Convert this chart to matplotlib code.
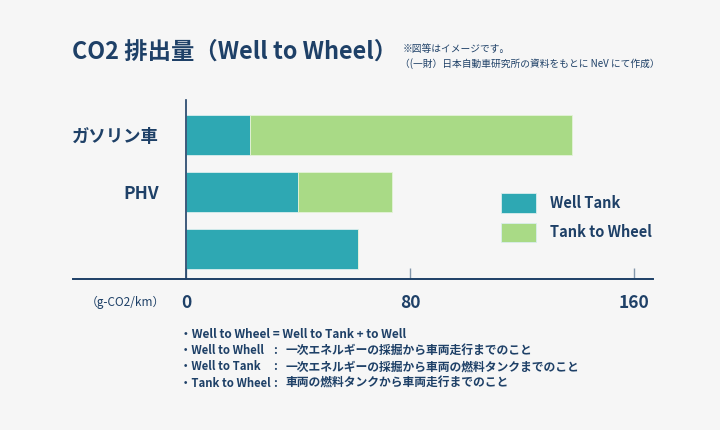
"""CO2 排出量 (Well to Wheel) stacked bar chart -> out.png"""

import matplotlib

matplotlib.use("Agg")
import matplotlib.pyplot as plt
from matplotlib.lines import Line2D
from matplotlib.patches import Rectangle

plt.rcParams["font.family"] = ["Noto Sans CJK JP", "DejaVu Sans"]

# data (g-CO2/km)
categories = ["ガソリン車", "PHV", ""]
well_to_tank = [23, 40, 61.5]
tank_to_wheel = [115, 33.5, 0]
series_names = ["Well Tank", "Tank to Wheel"]
xticks = [0, 80, 160]

NAVY = "#1e4067"
TEAL = "#2ea8b3"
GREEN = "#a9da86"
BG = "#f6f6f6"
W, H = 720, 430


def px(x, y):
    """pixel (from top-left) -> figure fraction"""
    return x / W, 1 - y / H


fig = plt.figure(figsize=(7.2, 4.3), dpi=100, facecolor=BG)

# axes: x=0 at 186px, 2.8 px per unit; top 100px, bottom 279px
left, top, right, bottom = 186, 100, 653, 279
ax = fig.add_axes([left / W, 1 - bottom / H, (right - left) / W, (bottom - top) / H])
ax.set_facecolor("none")
ax.set_xlim(0, (right - left) / 2.8)
ax.set_ylim(2.526, -0.614)

ypos = range(len(categories))
ax.barh(ypos, well_to_tank, height=0.70, color=TEAL, edgecolor="#d9eeee", linewidth=0.6)
ax.barh(ypos, tank_to_wheel, left=well_to_tank, height=0.70, color=GREEN,
        edgecolor="#e4f3d8", linewidth=0.6)

for s in ("top", "right", "bottom"):
    ax.spines[s].set_visible(False)
ax.spines["left"].set_color(NAVY)
ax.spines["left"].set_linewidth(1.2)

ax.set_yticks(list(ypos))
ax.set_yticklabels(categories, fontsize=12.5, fontweight="bold", color=NAVY)
ax.tick_params(axis="y", length=0, pad=19.5)

ax.set_xticks(xticks)
ax.set_xticklabels([str(t) for t in xticks], fontsize=12.5, fontweight="bold", color=NAVY)
ax.tick_params(axis="x", direction="in", length=8, width=1, color="#8397ab", pad=11)

# long baseline under the chart
fig.add_artist(Line2D([73 / W, 653 / W], [1 - 279 / H] * 2, color=NAVY, lw=1.4))

# unit label
fig.text(*px(125, 302), "（g-CO2/km）", fontsize=8.5, color=NAVY, ha="center", va="center")

# title and source note
fig.text(*px(72, 52), "CO2 排出量（Well to Wheel）", fontsize=16.8, fontweight="bold",
         color=NAVY, va="center")
fig.text(*px(403, 49), "※図等はイメージです。", fontsize=7, color=NAVY, va="center")
fig.text(*px(400, 64), "（(一財）日本自動車研究所の資料をもとに NeV にて作成）", fontsize=7,
         color=NAVY, va="center")

# legend
for i, (name, col) in enumerate(zip(series_names, [TEAL, GREEN])):
    y0 = 193 + i * 29.5
    x0, y1 = px(501, y0 + 19.5)
    fig.add_artist(Rectangle((x0, y1), 35 / W, 19.5 / H, facecolor=col,
                             edgecolor="#d9eeee", lw=0.6))
    fig.text(*px(550, y0 + 10), name, fontsize=10.5, fontweight="bold",
             color=NAVY, va="center")

# notes under the axis
fig.text(*px(180, 334), "・Well to Wheel = Well to Tank + to Well", fontsize=8.5,
         fontweight="bold", color=NAVY, va="center")
notes = [
    ("・Well to Whell", "一次エネルギーの採掘から車両走行までのこと"),
    ("・Well to Tank", "一次エネルギーの採掘から車両の燃料タンクまでのこと"),
    ("・Tank to Wheel", "車両の燃料タンクから車両走行までのこと"),
]
for i, (head, body) in enumerate(notes):
    y = 350.5 + i * 16.5
    fig.text(*px(180, y), head, fontsize=8.2, fontweight="bold", color=NAVY, va="center")
    fig.text(*px(275, y), ":", fontsize=8.5, fontweight="bold", color=NAVY,
             va="center", ha="center")
    fig.text(*px(286, y), body, fontsize=8.5, fontweight="bold", color=NAVY, va="center")

fig.savefig("out.png", dpi=100, facecolor=BG)
